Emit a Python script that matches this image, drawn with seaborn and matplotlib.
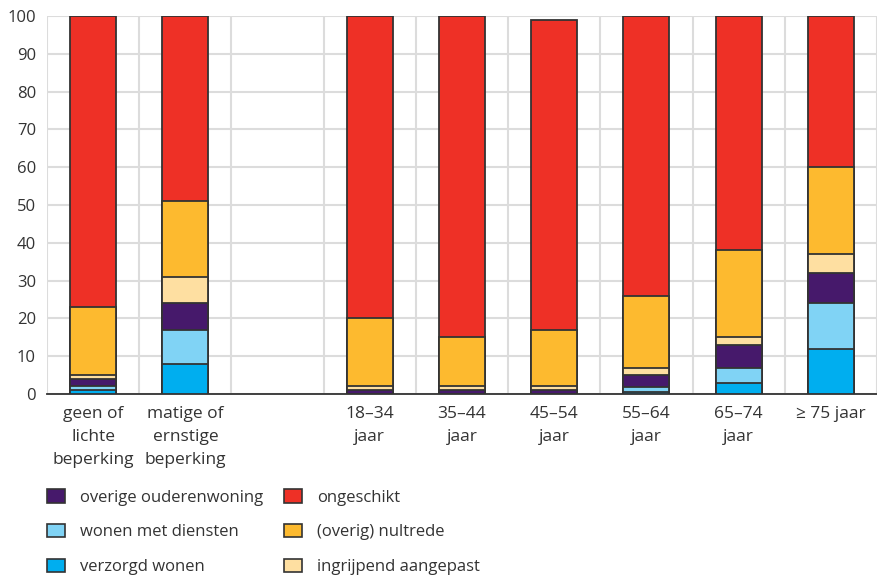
import numpy as np
import pandas as pd
import seaborn as sns
import matplotlib.pyplot as plt
from matplotlib.patches import Patch

nan = np.nan
categories = ["geen of\nlichte\nbeperking", "matige of\nernstige\nbeperking", "",
              "18\u201334\njaar", "35\u201344\njaar", "45\u201354\njaar",
              "55\u201364\njaar", "65\u201374\njaar", "\u2265 75 jaar"]

# stacked from bottom to top
verzorgd_wonen = [1, 8, nan, 0, 0, 0, 0.6, 3, 12]
wonen_met_diensten = [1, 9, nan, 0, 0, 0, 1.2, 4, 12]
overige_ouderenwoning = [2, 7, nan, 1, 1, 1, 3.2, 6, 8]
ingrijpend_aangepast = [1, 7, nan, 1, 1, 1, 2, 2, 5]
nultrede = [18, 20, nan, 18, 13, 15, 19, 23, 23]
ongeschikt = [77, 49, nan, 80, 85, 82, 74, 62, 40]

series = [
    ("verzorgd wonen", verzorgd_wonen, "#00aeef"),
    ("wonen met diensten", wonen_met_diensten, "#80d3f5"),
    ("overige ouderenwoning", overige_ouderenwoning, "#46196b"),
    ("ingrijpend aangepast", ingrijpend_aangepast, "#fedfa1"),
    ("(overig) nultrede", nultrede, "#fdba2f"),
    ("ongeschikt", ongeschikt, "#ee3026"),
]

df = pd.DataFrame({name: vals for name, vals, _ in series})
cum = df.cumsum(axis=1, skipna=False)
cum["cat"] = categories

sns.set_style("white")
plt.rcParams['font.family'] = ['Open Sans', 'DejaVu Sans']

fig = plt.figure(figsize=(8.77, 5.77), dpi=100)
ax = fig.add_axes([47 / 877, 1 - 394 / 577, 1 - 47 / 877, (394 - 16) / 577])

# draw cumulative totals from top layer down so lower layers sit on top
for name, _, color in reversed(series):
    sns.barplot(data=cum, x="cat", y=name, order=categories, color=color,
                width=0.5, edgecolor="#333333", linewidth=1.3, saturation=1,
                ax=ax, zorder=3)

ax.set_ylim(0, 100)
ax.set_xlim(-0.5, 8.5)
ax.set_yticks(range(0, 101, 10))
ax.set_xticks(range(len(categories)))
ax.set_xticklabels(categories, fontsize=12.5, color="#333333", linespacing=1.55)
ax.set_xticks(np.arange(-0.5, 8.6, 1), minor=True)
ax.tick_params(axis="x", which="major", length=0, pad=9)
ax.tick_params(axis="x", which="minor", length=6, width=1.2, color="#333333")
ax.tick_params(axis="y", length=0, labelsize=12, labelcolor="#333333", pad=8)
ax.set_xlabel("")
ax.set_ylabel("")

ax.yaxis.grid(True, color="#dcdcdc", linewidth=1.5, zorder=0)
ax.xaxis.grid(True, which="minor", color="#dcdcdc", linewidth=1.5, zorder=0)
ax.set_axisbelow(True)
for side in ["top", "right", "left"]:
    ax.spines[side].set_visible(False)
ax.spines["bottom"].set_color("#333333")
ax.spines["bottom"].set_linewidth(1.3)

handle_order = ["overige ouderenwoning", "wonen met diensten", "verzorgd wonen",
                "ongeschikt", "(overig) nultrede", "ingrijpend aangepast"]
colors = {n: c for n, _, c in series}
handles = [Patch(facecolor=colors[n], edgecolor="#333333", linewidth=1.2, label=n)
           for n in handle_order]
fig.legend(handles=handles, loc="upper left", bbox_to_anchor=(47 / 877, 0.152),
           ncol=2, frameon=False, fontsize=12, labelcolor="#333333",
           handlelength=1.05, handleheight=0.85, handletextpad=0.9,
           labelspacing=1.1, columnspacing=1.3, borderaxespad=0, borderpad=0)

fig.savefig("out.png", dpi=100)
